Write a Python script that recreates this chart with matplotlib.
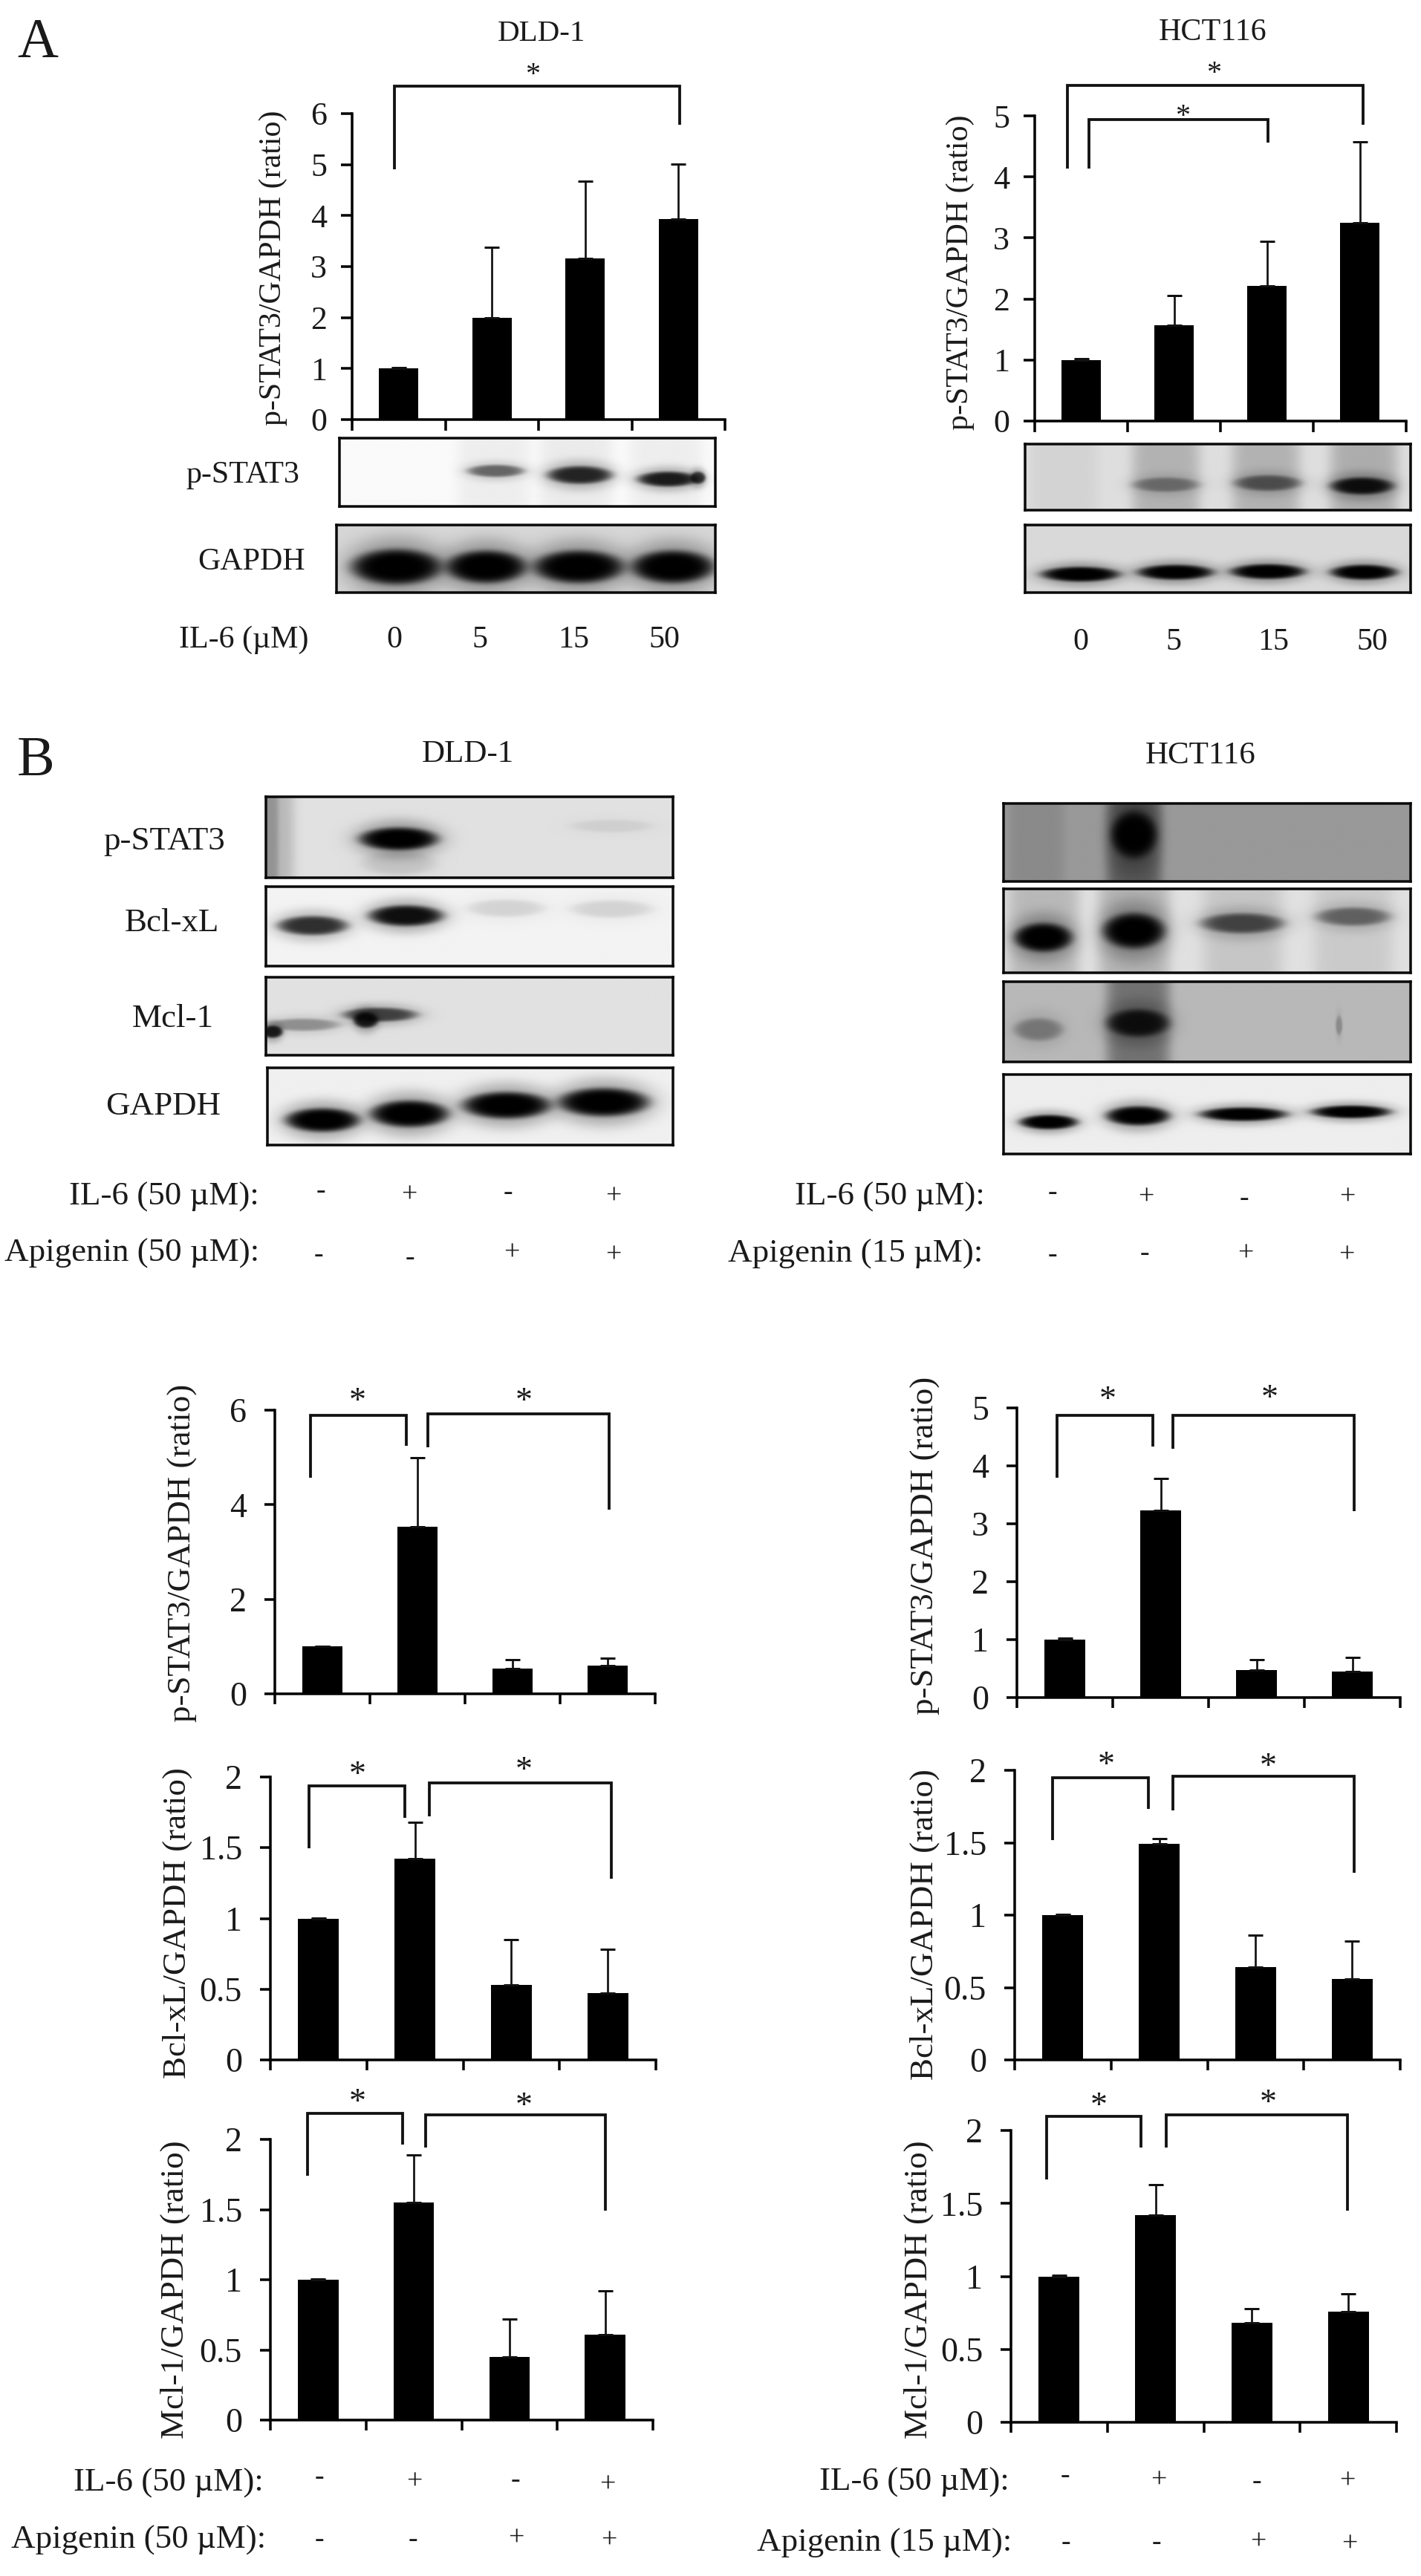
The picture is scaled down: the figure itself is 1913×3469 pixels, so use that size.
import numpy as np
import matplotlib
matplotlib.use("Agg")
import matplotlib.pyplot as plt

W, H = 1913, 3469
PX = 0.72  # points per pixel at dpi 100
plt.rcParams['font.family'] = ['Liberation Serif', 'DejaVu Serif']

# bar values
conc_values = ["0", "5", "15", "50"]

a_dld_vals = [1.0, 2.0, 3.16, 3.93]
a_dld_errs = [0.02, 1.38, 1.51, 1.08]
a_hct_vals = [1.0, 1.57, 2.21, 3.25]
a_hct_errs = [0.02, 0.48, 0.73, 1.32]

b_dld_stat_vals = [1.0, 3.53, 0.54, 0.6]
b_dld_stat_errs = [0.01, 1.47, 0.18, 0.15]
b_dld_bcl_vals = [1.0, 1.42, 0.53, 0.47]
b_dld_bcl_errs = [0.005, 0.26, 0.32, 0.31]
b_dld_mcl_vals = [1.0, 1.55, 0.45, 0.61]
b_dld_mcl_errs = [0.005, 0.34, 0.27, 0.31]

b_hct_stat_vals = [1.0, 3.23, 0.47, 0.45]
b_hct_stat_errs = [0.02, 0.55, 0.18, 0.24]
b_hct_bcl_vals = [1.0, 1.49, 0.64, 0.56]
b_hct_bcl_errs = [0.005, 0.04, 0.22, 0.26]
b_hct_mcl_vals = [1.0, 1.42, 0.68, 0.76]
b_hct_mcl_errs = [0.01, 0.21, 0.10, 0.12]

ticks_6 = [0, 1, 2, 3, 4, 5, 6]
ticks_5 = [0, 1, 2, 3, 4, 5]
ticks_6_even = [0, 2, 4, 6]
ticks_2 = [0, 0.5, 1, 1.5, 2]
il6_signs = ["-", "+", "-", "+"]
api_signs = ["-", "-", "+", "+"]

fig = plt.figure(figsize=(W / 100, H / 100), dpi=100, facecolor='white')


def bar_panel(left, right, top, zero, vals, errs, ticks, tick_len=14, pad=22, size=44):
    ax = fig.add_axes([left / W, 1 - zero / H, (right - left) / W, (zero - top) / H])
    x = np.arange(4) + 0.5
    ax.bar(x, vals, width=0.425, color='black')
    ax.errorbar(x, vals, yerr=[np.zeros(4), errs], fmt='none', ecolor='#111111',
                elinewidth=2.7 * PX, capsize=10 * PX, capthick=3 * PX, clip_on=False)
    ax.set_xlim(0, 4)
    ax.set_ylim(0, ticks[-1])
    ax.set_xticks(range(5))
    ax.set_xticklabels([])
    ax.set_yticks(ticks)
    ax.set_yticklabels([f"{t:g}" for t in ticks], fontsize=size * PX, color='#1a1a1a')
    ax.tick_params(length=tick_len * PX, width=3.5 * PX, pad=pad * PX)
    ax.spines['top'].set_visible(False)
    ax.spines['right'].set_visible(False)
    ax.spines['left'].set_linewidth(3.5 * PX)
    ax.spines['bottom'].set_linewidth(3.5 * PX)
    ax.patch.set_alpha(0)
    return ax


def blot(x0, x1, y0, y1, bg, bands):
    # a western blot strip: soft dark blobs on a grey ground, each band is
    # (centre x, centre y, half width, half height, strength) as fractions of the strip
    ax = fig.add_axes([x0 / W, 1 - y1 / H, (x1 - x0) / W, (y1 - y0) / H])
    xx, yy = np.meshgrid(np.linspace(0, 1, 400), np.linspace(0, 1, 200))
    img = np.full(xx.shape, float(bg))
    for cx, cy, rx, ry, s in bands:
        r = ((xx - cx) / rx) ** 2 + ((yy - cy) / ry) ** 2
        img *= 1 - s * np.exp(-r ** 3)
        if ry < 1:
            halo = ((xx - cx) / (rx * 1.2)) ** 2 + ((yy - cy) / (ry * 1.8)) ** 2
            img *= 1 - 0.3 * s * np.exp(-halo ** 2)
    ax.imshow(img, cmap='gray', vmin=0, vmax=1, aspect='auto', extent=(0, 1, 1, 0),
              interpolation='bilinear')
    ax.set_xticks([])
    ax.set_yticks([])
    for sp in ax.spines.values():
        sp.set_linewidth(3.5 * PX)
        sp.set_color('#0a0a0a')


# panel A bars
bar_panel(474, 976, 153, 565, a_dld_vals, a_dld_errs, ticks_6, tick_len=15, pad=19)
bar_panel(1393, 1893, 156, 567, a_hct_vals, a_hct_errs, ticks_5, tick_len=15, pad=19)

# panel B bars
bar_panel(370, 882, 1899, 2281, b_dld_stat_vals, b_dld_stat_errs, ticks_6_even, pad=24, size=46)
bar_panel(364, 883, 2393, 2774, b_dld_bcl_vals, b_dld_bcl_errs, ticks_2, pad=24, size=46)
bar_panel(364, 879, 2881, 3259, b_dld_mcl_vals, b_dld_mcl_errs, ticks_2, pad=24, size=46)
bar_panel(1369, 1885, 1896, 2286, b_hct_stat_vals, b_hct_stat_errs, ticks_5, pad=24, size=46)
bar_panel(1366, 1885, 2384, 2774, b_hct_bcl_vals, b_hct_bcl_errs, ticks_2, pad=24, size=46)
bar_panel(1361, 1880, 2869, 3262, b_hct_mcl_vals, b_hct_mcl_errs, ticks_2, pad=24, size=46)

# panel A blots
blot(457, 963, 590, 682, 0.98, [(0.41, 0.5, 0.1, 3, 0.05), (0.63, 0.5, 0.1, 3, 0.06),
                                (0.87, 0.5, 0.1, 3, 0.05),
                                (0.416, 0.48, 0.075, 0.09, 0.5), (0.64, 0.54, 0.085, 0.13, 0.8),
                                (0.875, 0.6, 0.08, 0.11, 0.85), (0.955, 0.58, 0.02, 0.09, 0.7)])
blot(453, 963, 707, 798, 0.84, [(0.158, 0.62, 0.118, 0.26, 1.0), (0.395, 0.62, 0.105, 0.24, 1.0),
                                (0.64, 0.62, 0.118, 0.24, 1.0), (0.889, 0.62, 0.108, 0.24, 1.0)])
blot(1380, 1899, 598, 687, 0.87, [(0.1, 0.5, 0.09, 3, 0.05), (0.365, 0.5, 0.09, 3, 0.2),
                                  (0.625, 0.5, 0.09, 3, 0.2), (0.88, 0.5, 0.09, 3, 0.22),
                                  (0.365, 0.615, 0.085, 0.11, 0.35), (0.63, 0.59, 0.085, 0.12, 0.5),
                                  (0.875, 0.635, 0.08, 0.13, 0.9)])
blot(1380, 1899, 707, 798, 0.85, [(0.143, 0.73, 0.1, 0.11, 1.0), (0.39, 0.7, 0.097, 0.11, 1.0),
                                  (0.63, 0.69, 0.095, 0.11, 1.0), (0.88, 0.7, 0.085, 0.11, 1.0)])

# panel B blots, DLD-1
blot(358, 906, 1073, 1182, 0.88, [(0.0, 0.5, 0.03, 3, 0.2), (0.0, 0.5, 0.07, 3, 0.18),
                                  (0.326, 0.82, 0.09, 0.15, 0.1),
                                  (0.326, 0.52, 0.095, 0.14, 1.0), (0.85, 0.36, 0.1, 0.08, 0.06)])
blot(358, 906, 1194, 1301, 0.95, [(0.114, 0.49, 0.085, 0.12, 0.75), (0.344, 0.365, 0.09, 0.13, 0.92),
                                  (0.59, 0.27, 0.095, 0.11, 0.1), (0.85, 0.28, 0.1, 0.11, 0.1)])
blot(358, 906, 1316, 1421, 0.88, [(0.09, 0.61, 0.09, 0.08, 0.3), (0.015, 0.7, 0.025, 0.08, 0.85),
                                  (0.28, 0.48, 0.09, 0.09, 0.65), (0.245, 0.55, 0.03, 0.1, 0.85)])
blot(360, 906, 1438, 1542, 0.94, [(0.135, 0.68, 0.09, 0.15, 1.0), (0.35, 0.6, 0.095, 0.17, 1.0),
                                  (0.59, 0.49, 0.107, 0.17, 1.0), (0.83, 0.45, 0.11, 0.18, 1.0)])

# panel B blots, HCT116
blot(1351, 1899, 1082, 1187, 0.6, [(0.08, 0.5, 0.07, 3, 0.1), (0.32, 0.5, 0.07, 3, 0.4),
                                   (0.32, 0.4, 0.055, 0.3, 1.0)])
blot(1351, 1899, 1197, 1310, 0.88, [(0.097, 0.5, 0.09, 3, 0.18), (0.32, 0.5, 0.09, 3, 0.2),
                                    (0.587, 0.5, 0.1, 3, 0.12), (0.86, 0.5, 0.1, 3, 0.1),
                                    (0.097, 0.58, 0.07, 0.17, 1.0), (0.32, 0.5, 0.075, 0.21, 1.0),
                                    (0.587, 0.41, 0.1, 0.12, 0.6), (0.86, 0.33, 0.09, 0.11, 0.45)])
blot(1351, 1899, 1322, 1430, 0.72, [(0.33, 0.5, 0.08, 3, 0.38), (0.085, 0.6, 0.06, 0.14, 0.3),
                                    (0.33, 0.52, 0.075, 0.17, 0.85), (0.825, 0.55, 0.008, 0.12, 0.2)])
blot(1351, 1899, 1447, 1554, 0.93, [(0.11, 0.6, 0.07, 0.09, 1.0), (0.33, 0.52, 0.077, 0.12, 1.0),
                                    (0.59, 0.5, 0.105, 0.085, 1.0), (0.855, 0.47, 0.095, 0.08, 1.0)])

# overlay in image pixels for labels and brackets
ov = fig.add_axes([0, 0, 1, 1])
ov.set_xlim(0, W)
ov.set_ylim(H, 0)
ov.axis('off')


def txt(x, y, s, size, ha='center', rot=0, lift=0.33):
    # y is the visual middle of the text
    if rot:
        ov.text(x + lift * size, y, s, fontsize=size * PX, ha='center', va='baseline',
                rotation=90, rotation_mode='anchor', color='#1a1a1a')
    else:
        ov.text(x, y + lift * size, s, fontsize=size * PX, ha=ha, va='baseline', color='#1a1a1a')


def bracket(x0, x1, ytop, yleft, yright, star_x, star_y, star=46):
    ov.plot([x0, x0, x1, x1], [yleft, ytop, ytop, yright], color='#111111', lw=3.8 * PX,
            solid_joinstyle='miter', solid_capstyle='butt')
    txt(star_x, star_y, "*", star, lift=0.47)


def sign_row(xs, ys, signs):
    for x, y, s in zip(xs, ys, signs):
        txt(x, y, s, 38, lift=0.25)


# panel letters and titles
txt(51, 52, "A", 76)
txt(48, 1019, "B", 76)
txt(729, 41, "DLD-1", 41)
txt(1633, 40, "HCT116", 42)
txt(630, 1012, "DLD-1", 43)
txt(1616, 1014, "HCT116", 43)

# y labels
txt(364, 361, "p-STAT3/GAPDH (ratio)", 42, rot=90)
txt(1289, 367, "p-STAT3/GAPDH (ratio)", 42, rot=90)
txt(242, 2091, "p-STAT3/GAPDH (ratio)", 45, rot=90)
txt(235, 2590, "Bcl-xL/GAPDH (ratio)", 45, rot=90)
txt(232, 3083, "Mcl-1/GAPDH (ratio)", 45, rot=90)
txt(1242, 2081, "p-STAT3/GAPDH (ratio)", 45, rot=90)
txt(1241, 2592, "Bcl-xL/GAPDH (ratio)", 45, rot=90)
txt(1233, 3083, "Mcl-1/GAPDH (ratio)", 45, rot=90)

# brackets
bracket(531, 915, 116, 228, 168, 717, 92, star=40)
bracket(1437, 1835, 115, 227, 168, 1634, 90, star=40)
bracket(1466, 1707, 161, 227, 192, 1592, 148, star=40)
bracket(418, 547, 1906, 1990, 1947, 481, 1878)
bracket(576, 820, 1904, 1949, 2033, 705, 1878)
bracket(416, 545, 2405, 2489, 2448, 481, 2381)
bracket(578, 823, 2401, 2446, 2530, 705, 2375)
bracket(414, 542, 2846, 2930, 2888, 481, 2822)
bracket(573, 815, 2848, 2892, 2977, 705, 2827)
bracket(1423, 1552, 1906, 1990, 1948, 1491, 1876)
bracket(1579, 1823, 1906, 1951, 2035, 1709, 1874)
bracket(1417, 1546, 2394, 2478, 2436, 1489, 2368)
bracket(1579, 1823, 2392, 2438, 2522, 1707, 2370)
bracket(1409, 1536, 2850, 2935, 2892, 1479, 2827)
bracket(1570, 1814, 2848, 2892, 2977, 1707, 2823)

# panel A blot labels and concentrations
txt(327, 636, "p-STAT3", 42)
txt(339, 753, "GAPDH", 42)
txt(328, 858, "IL-6 (µM)", 42)
for x, s in zip([531, 646, 772, 894], conc_values):
    txt(x, 858, s, 42)
for x, s in zip([1455, 1580, 1714, 1847], conc_values):
    txt(x, 861, s, 42)

# panel B blot labels
txt(303, 1129, "p-STAT3", 45, ha='right')
txt(295, 1239, "Bcl-xL", 45, ha='right')
txt(288, 1368, "Mcl-1", 45, ha='right')
txt(297, 1486, "GAPDH", 45, ha='right')

# treatment rows
txt(349, 1608, "IL-6 (50 µM):", 45, ha='right')
txt(349, 1684, "Apigenin (50 µM):", 45, ha='right')
sign_row([432, 551, 684, 826], [1604, 1609, 1607, 1611], il6_signs)
sign_row([429, 552, 689, 826], [1690, 1694, 1687, 1690], api_signs)

txt(1326, 1608, "IL-6 (50 µM):", 45, ha='right')
txt(1323, 1685, "Apigenin (15 µM):", 45, ha='right')
sign_row([1417, 1543, 1675, 1814], [1607, 1612, 1614, 1612], il6_signs)
sign_row([1417, 1541, 1677, 1813], [1690, 1689, 1688, 1690], api_signs)

txt(355, 3340, "IL-6 (50 µM):", 45, ha='right')
txt(358, 3417, "Apigenin (50 µM):", 45, ha='right')
sign_row([430, 558, 694, 818], [3337, 3342, 3340, 3346], il6_signs)
sign_row([430, 556, 695, 820], [3421, 3421, 3418, 3421], api_signs)

txt(1359, 3339, "IL-6 (50 µM):", 45, ha='right')
txt(1362, 3421, "Apigenin (15 µM):", 45, ha='right')
sign_row([1434, 1560, 1692, 1814], [3334, 3340, 3342, 3341], il6_signs)
sign_row([1435, 1557, 1694, 1817], [3425, 3425, 3423, 3426], api_signs)

fig.savefig("out.png", dpi=100, facecolor='white')
